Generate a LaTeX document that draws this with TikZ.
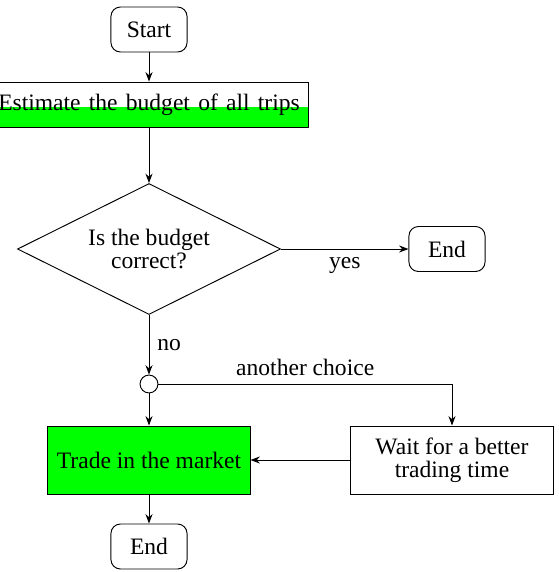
\documentclass[tikz,border=0pt]{standalone}
\usepackage{fontspec}
\setmainfont{Liberation Serif}
\usetikzlibrary{shapes.geometric}
\usetikzlibrary{arrows.meta}
\pgfdeclarelayer{nodelayer}
\pgfdeclarelayer{edgelayer}
\pgfsetlayers{nodelayer,edgelayer,main}
\tikzset{
    terminal/.style = {draw, rounded corners=4pt, minimum width=32.3pt, minimum height=19.1pt, inner sep=0pt},
    halfgreen/.style = {draw, minimum width=135pt, minimum height=19.1pt, inner sep=0pt,
        path picture={\fill [green] (path picture bounding box.south west) rectangle ([yshift=-1pt]path picture bounding box.east);}},
    decision/.style = {draw, diamond, aspect=2, minimum width=111.7pt, minimum height=55.6pt, inner sep=1pt,
        align=center, font=\fontsize{10pt}{9.8pt}\selectfont},
    junction/.style = {draw, circle, minimum size=7.6pt, inner sep=0pt},
    process/.style = {draw, minimum width=85.8pt, minimum height=28.9pt, inner sep=0pt,
        align=center, font=\fontsize{10pt}{9.8pt}\selectfont},
    flow/.style = {-{Stealth[length=4pt, width=3pt]}}
}
\begin{document}
\begin{tikzpicture}[x=0.4246pt, y=-0.4246pt]
  \useasboundingbox (0, 0) rectangle (558, 572);
  \begin{pgfonlayer}{nodelayer}
    \node [style=terminal] (0) at (149, 29.5) {Start};
    \node [style=halfgreen] (1) at (149, 104.5) {\makebox[128pt][s]{Estimate the budget of all trips}};
    \node [style=decision] (2) at (149, 249) {Is the budget\\correct?};
    \node [style=terminal] (3) at (447, 249) {End};
    \node [style=junction] (4) at (149, 384) {};
    \node [style=process, fill=green] (5) at (149, 460) {Trade in the market};
    \node [style=process] (6) at (452, 460) {Wait for a better\\trading time};
    \node [style=terminal] (7) at (149, 546.5) {End};
  \end{pgfonlayer}
  \begin{pgfonlayer}{edgelayer}
    \draw [style=flow] (0) to (1);
    \draw [style=flow] (1) to (2);
    \draw [style=flow] (2) to node [below] {yes} (3);
    \draw [style=flow] (2) to node [right] {no} (4);
    \draw [style=flow] (4) to (5);
    \draw [style=flow] (4) -| node [pos=0.25, above] {another choice} (6);
    \draw [style=flow] (6) to (5);
    \draw [style=flow] (5) to (7);
  \end{pgfonlayer}
\end{tikzpicture}
\end{document}
